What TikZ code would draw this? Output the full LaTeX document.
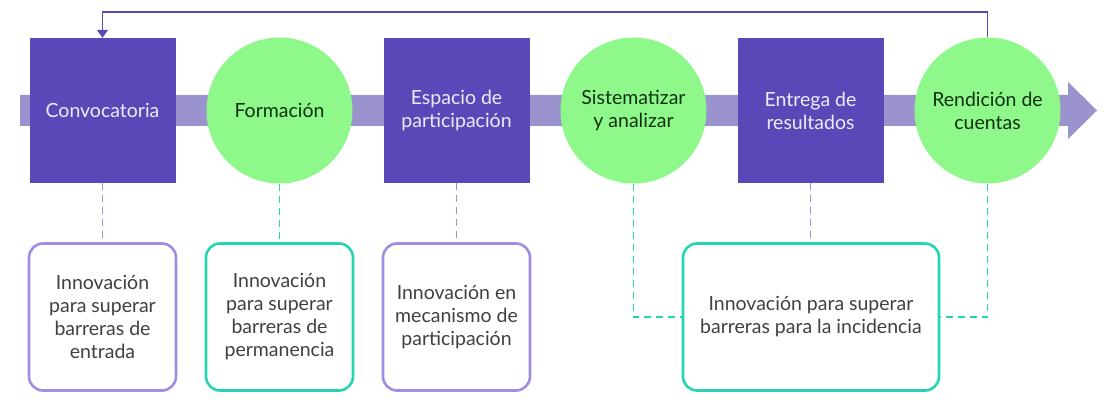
\documentclass[tikz,border=0pt]{standalone}
\usepackage{fontspec}
\setmainfont{Lato}
\usetikzlibrary{arrows.meta}
\definecolor{sq}{HTML}{5A48B9}
\definecolor{gr}{HTML}{8EF98A}
\definecolor{barc}{HTML}{9A93CD}
\definecolor{lav}{HTML}{A08CE0}
\definecolor{teal}{HTML}{27D4B2}
\definecolor{txtg}{HTML}{404040}
\definecolor{grtxt}{HTML}{10300F}
\definecolor{sqtxt}{HTML}{EEEAF8}
\begin{document}
\begin{tikzpicture}[x=1pt,y=-1pt,
  lbl/.style={font=\fontsize{19.5}{23}\selectfont, align=center},
  stepsq/.style={lbl, rectangle, fill=sq, minimum width=146pt, minimum height=145pt, inner sep=0pt, text=sqtxt},
  stepci/.style={lbl, circle, fill=gr, minimum size=146pt, inner sep=0pt, text=grtxt},
  innov/.style={lbl, rectangle, rounded corners=14pt, line width=2.6pt, minimum width=147pt, minimum height=147pt, inner sep=0pt, text=txtg},
  dl/.style={lav, line width=1.8pt, dash pattern=on 7pt off 5pt},
  dt/.style={teal, line width=1.8pt, dash pattern=on 7pt off 5pt},
  fb/.style={sq, line width=1.6pt}]
\useasboundingbox (0,0) rectangle (1105,403);
% bar arrow
\fill[barc] (20,95) -- (1068,95) -- (1068,82) -- (1097,110.5) -- (1068,139) -- (1068,126) -- (20,126) -- cycle;
% steps
\node[stepsq] (s1) at (102.5,110.5) {Convocatoria};
\node[stepci] (c1) at (279.5,110.5) {Formación};
\node[stepsq] (s2) at (456.5,110.5) {Espacio de\\participación};
\node[stepci] (c2) at (633.5,110.5) {Sistematizar\\y analizar};
\node[stepsq] (s3) at (810.5,110.5) {Entrega de\\resultados};
\node[stepci] (c3) at (987.5,110.5) {Rendición de\\cuentas};
% feedback loop
\coordinate (fbA) at (987.5,12);
\draw[fb, -{Triangle[width=11pt,length=8pt]}] (c3.north) -- (fbA) -| (s1.north);
% bottom boxes
\node[innov, draw=lav] (b1) at (102.5,317) {Innovación\\para superar\\barreras de\\entrada};
\node[innov, draw=teal] (b2) at (279.5,317) {Innovación\\para superar\\barreras de\\permanencia};
\node[innov, draw=lav] (b3) at (456.5,317) {Innovación en\\mecanismo de\\participación};
\node[innov, draw=teal, minimum width=256pt] (b4) at (811,317) {Innovación para superar\\barreras para la incidencia};
% connectors
\draw[dl] (s1.south) -- (b1.north);
\draw[dt] (c1.south) -- (b2.north);
\draw[dl] (s2.south) -- (b3.north);
\draw[dl] (s3.south) -- (s3.south |- b4.north);
\draw[dt] (c2.south) |- (b4.west);
\draw[dt] (c3.south) |- (b4.east);
\end{tikzpicture}
\end{document}
